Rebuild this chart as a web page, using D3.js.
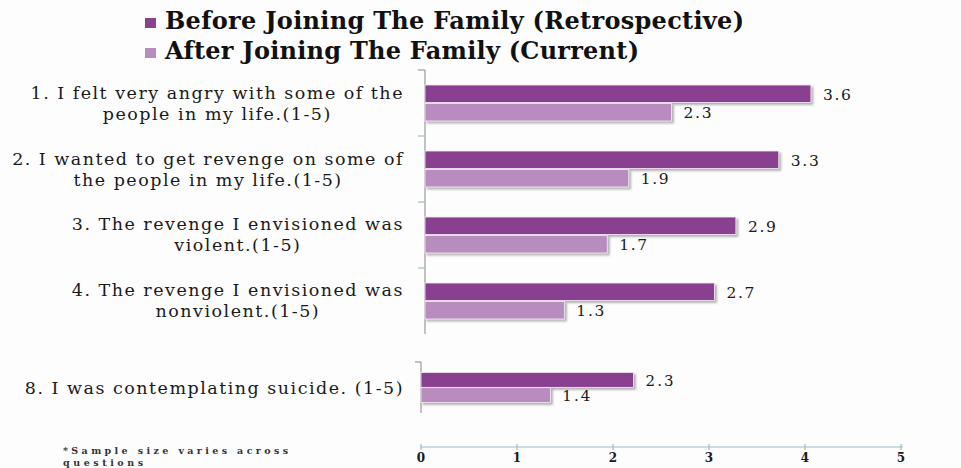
<!DOCTYPE html>
<html>
<head>
<meta charset="utf-8">
<script src="https://cdn.jsdelivr.net/npm/d3@7/dist/d3.min.js"></script>
<style>
  html, body { margin: 0; padding: 0; background: #fdfdfe; }
  svg { display: block; }
  text { font-family: "DejaVu Serif", "Liberation Serif", serif; fill: #1a1a1a; }
</style>
</head>
<body>
<svg id="chart" width="961" height="468"></svg>
<script>
// ---------- DATA ----------
const seriesNames = ["Before Joining The Family (Retrospective)", "After Joining The Family (Current)"];
const upperCategories = [
  ["1. I felt very angry with some of the", "people in my life.(1-5)"],
  ["2. I wanted to get revenge on some of", "the people in my life.(1-5)"],
  ["3. The revenge I envisioned was", "violent.(1-5)"],
  ["4. The revenge I envisioned was", "nonviolent.(1-5)"]
];
const lowerCategories = [
  ["8. I was contemplating suicide. (1-5)"]
];
const beforeValues = [3.6, 3.3, 2.9, 2.7, 2.3];
const afterValues  = [2.3, 1.9, 1.7, 1.3, 1.4];
const axisTicks = [0, 1, 2, 3, 4, 5];
const footnote = ["*Sample size varies across", "questions"];

// ---------- STYLE ----------
const colors = ["#8a4190", "#b98cc0"];
const axisColor = "#9fb9c6";
const svg = d3.select("#chart");

const defs = svg.append("defs");
const f = defs.append("filter").attr("id", "shadow").attr("x", "-5%").attr("y", "-30%").attr("width", "115%").attr("height", "180%");
f.append("feDropShadow").attr("dx", 2).attr("dy", 2).attr("stdDeviation", 1)
  .attr("flood-color", "#707070").attr("flood-opacity", 0.55);

function spread(node, target) {
  const w = node.getComputedTextLength();
  const n = node.textContent.length;
  if (n > 1) d3.select(node).attr("letter-spacing", ((target - w) / (n - 1)).toFixed(3));
}

// ---------- SCALES ----------
const xUpper = d3.scaleLinear().domain([0, 5]).range([425, 425 + 5 * 107.2]);
const xLower = d3.scaleLinear().domain([0, 5]).range([421, 421 + 5 * 92.4]);
const xAxis  = d3.scaleLinear().domain([0, 5]).range([421, 901]);

const upperIdx = upperCategories.map((d, i) => i);
const lowerIdx = lowerCategories.map((d, i) => i + upperCategories.length);
const yUpper = d3.scaleBand().domain(upperIdx).range([70, 334]).paddingInner(0.4545).paddingOuter(0.2273);
const yLower = d3.scaleBand().domain(lowerIdx).range([362, 413]).paddingInner(0.41).paddingOuter(0.205);
const subUpper = d3.scaleBand().domain([0, 1]).range([0, yUpper.bandwidth()]).paddingInner(0.06);
const subLower = d3.scaleBand().domain([0, 1]).range([0, yLower.bandwidth()]).paddingInner(0.02);

const allCats = upperCategories.concat(lowerCategories);
const rows = allCats.map((lines, i) => ({ i, lines, vals: [beforeValues[i], afterValues[i]] }));

// ---------- VERTICAL AXES ----------
const gAx = svg.append("g");
gAx.append("line").attr("x1", xUpper(0)).attr("x2", xUpper(0))
  .attr("y1", yUpper.range()[0]).attr("y2", yUpper.range()[1])
  .attr("stroke", "#9a9a9a").attr("stroke-width", 1.2);
const upperBounds = [yUpper.range()[0]].concat(upperIdx.slice(1).map(i => yUpper(i) - yUpper.step() * yUpper.paddingInner() / 2));
gAx.selectAll(".ut").data(upperBounds).join("line")
  .attr("x1", xUpper(0) - 7).attr("x2", xUpper(0))
  .attr("y1", d => d).attr("y2", d => d)
  .attr("stroke", (d, i) => i === 0 ? "#9a9a9a" : axisColor).attr("stroke-width", 1.2);
gAx.append("line").attr("x1", xLower(0)).attr("x2", xLower(0))
  .attr("y1", yLower.range()[0]).attr("y2", yLower.range()[1])
  .attr("stroke", "#9a9a9a").attr("stroke-width", 1.2);
gAx.append("line").attr("x1", xLower(0) - 6).attr("x2", xLower(0))
  .attr("y1", yLower.range()[0]).attr("y2", yLower.range()[0])
  .attr("stroke", "#9a9a9a").attr("stroke-width", 1.2);

// ---------- BARS ----------
function drawRow(r, x, y, sub, fontPx) {
  const g = svg.append("g");
  r.vals.forEach((v, s) => {
    const top = y(r.i) + sub(s);
    g.append("rect")
      .attr("x", x(0)).attr("y", top)
      .attr("width", x(v) - x(0)).attr("height", sub.bandwidth())
      .attr("fill", colors[s]).attr("stroke", "#f4ecf4").attr("stroke-width", 0.8)
      .attr("filter", "url(#shadow)");
    const t = g.append("text")
      .attr("x", x(v) + 12).attr("y", top + sub.bandwidth() / 2 + 1)
      .attr("dominant-baseline", "central")
      .style("font-size", fontPx + "px")
      .text(v.toFixed(1));
    spread(t.node(), 28);
  });
}
rows.slice(0, upperCategories.length).forEach(r => drawRow(r, xUpper, yUpper, subUpper, 15.5));
rows.slice(upperCategories.length).forEach(r => drawRow(r, xLower, yLower, subLower, 15));

// ---------- CATEGORY LABELS ----------
const labelRight = 404;
const labelSize = 17.5;
const probe = svg.append("text").style("font-size", labelSize + "px").text(upperCategories[0][0]);
const labelLS = (372 - probe.node().getComputedTextLength()) / (upperCategories[0][0].length - 1);
probe.remove();
rows.forEach(r => {
  const upper = r.i < upperCategories.length;
  const y = upper ? yUpper : yLower;
  const cy = y(r.i) + y.bandwidth() / 2;
  const t = svg.append("text").style("font-size", labelSize + "px").attr("text-anchor", "middle")
    .attr("letter-spacing", labelLS.toFixed(3));
  const n = r.lines.length;
  const lh = 21;
  r.lines.forEach((ln, k) => {
    t.append("tspan").attr("x", 0).attr("y", cy + (k - (n - 1) / 2) * lh)
      .attr("dominant-baseline", "central").text(ln);
  });
  let maxW = 0;
  t.selectAll("tspan").each(function () { maxW = Math.max(maxW, this.getComputedTextLength()); });
  t.selectAll("tspan").attr("x", labelRight - maxW / 2);
});

// ---------- BOTTOM AXIS ----------
const axisY = 447;
const gx = svg.append("g").attr("transform", `translate(0,${axisY})`);
gx.append("line").attr("x1", xAxis(0)).attr("x2", xAxis(5) + 2).attr("y1", 0).attr("y2", 0)
  .attr("stroke", axisColor).attr("stroke-width", 1.2);
gx.selectAll(".tk").data(axisTicks).join("line")
  .attr("x1", d => xAxis(d)).attr("x2", d => xAxis(d)).attr("y1", -3).attr("y2", 3)
  .attr("stroke", axisColor).attr("stroke-width", 1.2);
gx.selectAll(".tl").data(axisTicks).join("text")
  .attr("x", d => xAxis(d)).attr("y", 11).attr("text-anchor", "middle")
  .attr("dominant-baseline", "central")
  .style("font-size", "12px").style("font-weight", "bold")
  .text(d => d);

// ---------- LEGEND ----------
const lg = svg.append("g");
const legendWidths = [579, 474];
seriesNames.forEach((name, s) => {
  const base = 29 + s * 30;
  lg.append("rect").attr("x", 145).attr("y", base - 11).attr("width", 11).attr("height", 10).attr("fill", colors[s]);
  const t = lg.append("text").attr("x", 165).attr("y", base)
    .style("font-size", "24px").style("font-weight", "bold").style("fill", "#111")
    .text(name);
  spread(t.node(), legendWidths[s]);
});

// ---------- FOOTNOTE ----------
const footWidths = [225, 80];
footnote.forEach((ln, k) => {
  const t = svg.append("text").attr("x", 63).attr("y", 454 + k * 11.5)
    .style("font-size", "9.5px").style("font-weight", "bold").style("fill", "#333")
    .text(ln);
  spread(t.node(), footWidths[k]);
});
</script>
</body>
</html>
